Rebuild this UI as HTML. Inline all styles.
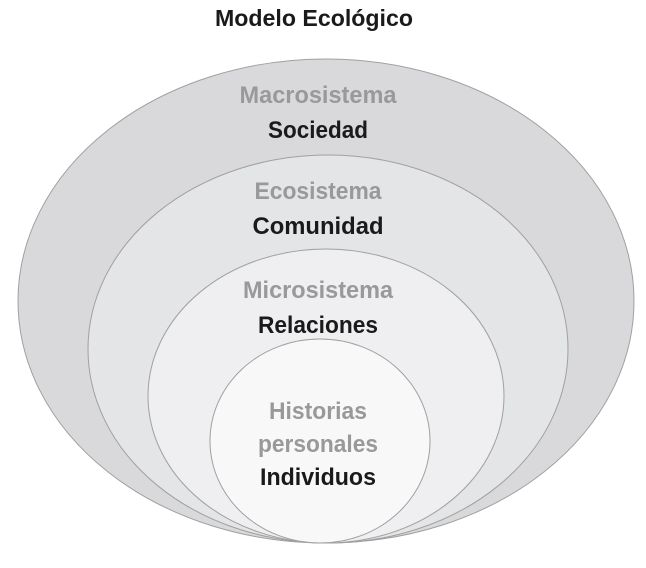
<!DOCTYPE html>
<html><head><meta charset="utf-8"><style>
html,body{margin:0;padding:0;background:#fff;width:646px;height:568px;overflow:hidden}
</style></head><body>
<svg width="646" height="568" viewBox="0 0 646 568" xmlns="http://www.w3.org/2000/svg">
<g stroke="#a0a0a0" stroke-width="1">
<ellipse cx="326" cy="301" rx="308" ry="242" fill="#d9d9db"/>
<ellipse cx="328" cy="349" rx="240" ry="194" fill="#e4e5e7"/>
<ellipse cx="326" cy="396" rx="178" ry="147" fill="#efeff1"/>
<ellipse cx="320" cy="441" rx="110" ry="102" fill="#f8f8f8"/>
</g>
<g font-family="'Liberation Sans',sans-serif" font-weight="bold" text-anchor="middle" font-size="24" lengthAdjust="spacingAndGlyphs">
<text x="314" y="26" fill="#1a1a1a" font-size="23" textLength="198" lengthAdjust="spacingAndGlyphs">Modelo Ecológico</text>
<text x="318" y="103" fill="#999" textLength="157" lengthAdjust="spacingAndGlyphs">Macrosistema</text>
<text x="318" y="138" fill="#1a1a1a" textLength="100" lengthAdjust="spacingAndGlyphs">Sociedad</text>
<text x="318" y="199" fill="#999" textLength="127" lengthAdjust="spacingAndGlyphs">Ecosistema</text>
<text x="318" y="234" fill="#1a1a1a" textLength="131" lengthAdjust="spacingAndGlyphs">Comunidad</text>
<text x="318" y="298" fill="#999" textLength="150" lengthAdjust="spacingAndGlyphs">Microsistema</text>
<text x="318" y="333" fill="#1a1a1a" textLength="120" lengthAdjust="spacingAndGlyphs">Relaciones</text>
<text x="318" y="419" fill="#999" textLength="98" lengthAdjust="spacingAndGlyphs">Historias</text>
<text x="318" y="452" fill="#999" textLength="120" lengthAdjust="spacingAndGlyphs">personales</text>
<text x="318" y="485" fill="#1a1a1a" textLength="116" lengthAdjust="spacingAndGlyphs">Individuos</text>
</g>
</svg>
</body></html>
